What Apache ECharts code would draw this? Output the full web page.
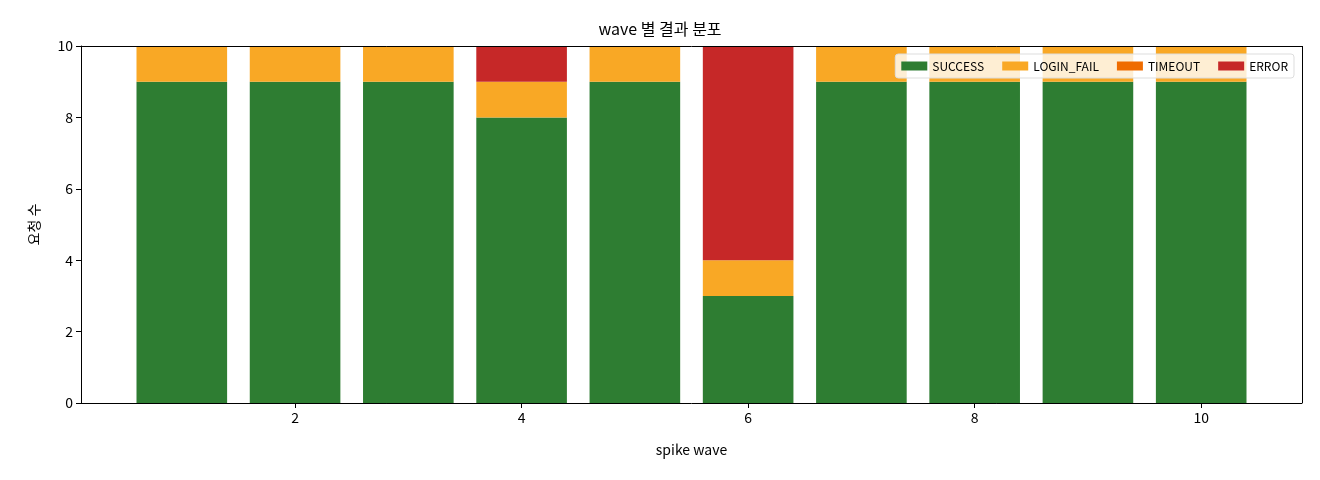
<!DOCTYPE html>
<html><head><meta charset="utf-8">
<script src="https://cdn.jsdelivr.net/npm/echarts@6/dist/echarts.min.js"></script>
<style>html,body{margin:0;padding:0;background:#fff}#c{width:1320px;height:480px}</style>
</head><body><div id="c"></div>
<script>
const waves = [1,2,3,4,5,6,7,8,9,10];
const success = [9,9,9,8,9,3,9,9,9,9];
const loginFail = [1,1,1,1,1,1,1,1,1,1];
const timeout = [0,0,0,0,0,0,0,0,0,0];
const error = [0,0,0,1,0,6,0,0,0,0];
const xTicks = [2,4,6,8,10];
const font = '"Noto Sans CJK KR", "DejaVu Sans", sans-serif';
const chart = echarts.init(document.getElementById('c'));
const unit = (1302-81)/10.78;
const innerL = 81 + (0.5-0.11)*unit, innerR = 18 + (10.89-10.5)*unit;
const mk = (name, vals, color) => ({
  name, type:'bar', stack:'s', barWidth:'80%', itemStyle:{color},
  xAxisIndex:1, yAxisIndex:1, data: vals
});
chart.setOption({
  animation:false,
  textStyle:{fontFamily:font},
  title:{text:'wave 별 결과 분포', left:'center', top:16, textStyle:{fontSize:16, fontWeight:'normal', color:'#000', fontFamily:font}},
  grid:[{left:81, right:18, top:46, bottom:77},{left:innerL, right:innerR, top:46, bottom:77}],
  legend:{right:26, top:54, itemWidth:26, itemHeight:9, itemGap:18, backgroundColor:'rgba(255,255,255,0.8)', borderColor:'#ddd', borderWidth:1, borderRadius:3, padding:[6,6],
    textStyle:{fontSize:12, color:'#000'}, icon:'rect',
    data:['SUCCESS','LOGIN_FAIL','TIMEOUT','ERROR']},
  xAxis:[{type:'value', gridIndex:0, min:0.11, max:10.89, name:'spike wave', nameLocation:'middle', nameGap:40, nameTextStyle:{fontSize:14,color:'#000'},
    axisLine:{show:true, onZero:false, lineStyle:{color:'#000'}}, splitLine:{show:false},
    axisTick:{show:true, customValues:xTicks, length:5, lineStyle:{color:'#000'}},
    axisLabel:{customValues:xTicks, fontSize:14, color:'#000', margin:8}},
    {type:'category', gridIndex:1, data:waves, show:false}],
  yAxis:[{type:'value', gridIndex:0, min:0, max:10, interval:2, name:'요청 수', nameLocation:'middle', nameGap:40, nameTextStyle:{fontSize:14,color:'#000'},
    axisLine:{show:true, lineStyle:{color:'#000'}}, splitLine:{show:false},
    axisTick:{show:true, length:5, lineStyle:{color:'#000'}},
    axisLabel:{fontSize:14, color:'#000', margin:8}},
    {type:'value', gridIndex:1, min:0, max:10, show:false}],
  series:[
    mk('SUCCESS', success, '#2e7d32'),
    mk('LOGIN_FAIL', loginFail, '#f9a825'),
    mk('TIMEOUT', timeout, '#ef6c00'),
    mk('ERROR', error, '#c62828'),
    {type:'line', xAxisIndex:0, yAxisIndex:0, data:[], z:5, markLine:{silent:true, symbol:'none', label:{show:false}, lineStyle:{color:'#000', type:'solid', width:1}, data:[[{coord:[0.11,10]},{coord:[10.89,10]}],[{coord:[10.89,0]},{coord:[10.89,10]}]]}}
  ]
});
</script></body></html>
